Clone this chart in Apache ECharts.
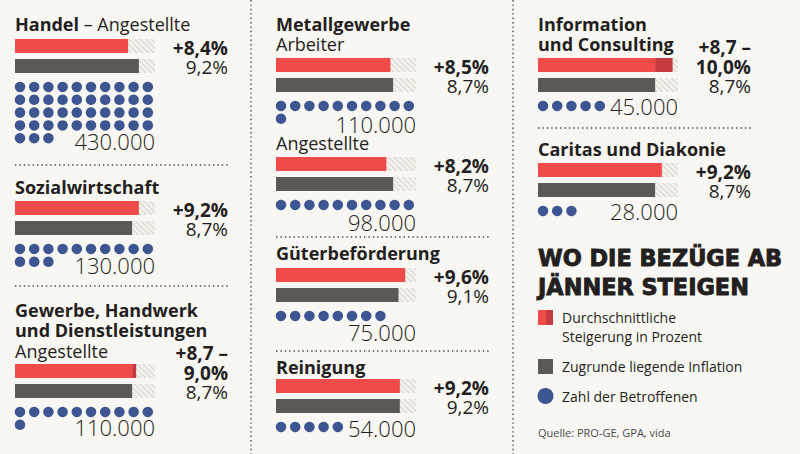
<!DOCTYPE html>
<html><head><meta charset="utf-8">
<script src="https://cdn.jsdelivr.net/npm/echarts@6/dist/echarts.min.js"></script>
<style>html,body{margin:0;padding:0;background:#f9f7f3}#c{width:800px;height:454px}</style>
</head><body><div id="c"></div>
<script>
// ---------- DATA ----------
const titles = [['Handel'], ['Sozialwirtschaft'], ['Gewerbe, Handwerk', 'und Dienstleistungen'], ['Metallgewerbe'], [], ['Güterbeförderung'], ['Reinigung'], ['Information', 'und Consulting'], ['Caritas und Diakonie']];
const groups = ['Angestellte', '', 'Angestellte', 'Arbeiter', 'Angestellte', '', '', '', ''];
const raiseLow = [8.4, 9.2, 8.7, 8.5, 8.2, 9.6, 9.2, 8.7, 9.2];
const raiseHigh = [8.4, 9.2, 9.0, 8.5, 8.2, 9.6, 9.2, 10.0, 9.2];
const inflation = [9.2, 8.7, 8.7, 8.7, 8.7, 9.1, 9.2, 8.7, 8.7];
const affected = [430000, 130000, 110000, 110000, 98000, 75000, 54000, 45000, 28000];
const barMax = 10.4;
const dotUnit = 10000;
const headline = ['WO DIE BEZÜGE AB', 'JÄNNER STEIGEN'];
const legendLabels = [['Durchschnittliche', 'Steigerung in Prozent'], ['Zugrunde liegende Inflation'], ['Zahl der Betroffenen']];
const source = 'Quelle: PRO-GE, GPA, vida';

// ---------- LAYOUT ----------
const layout = [
  {x: 15, titleTop: 14, inline: true, bar: 39, countY: 141},
  {x: 15, titleTop: 177, bar: 201, countY: 265},
  {x: 15, titleTop: 300, bar: 364, countY: 427},
  {x: 276, titleTop: 14, bar: 58, countY: 124},
  {x: 276, titleTop: 133, bar: 157, countY: 222},
  {x: 276, titleTop: 243, bar: 268, countY: 332},
  {x: 276, titleTop: 357, bar: 379, countY: 428},
  {x: 538, titleTop: 14, bar: 58, countY: 106},
  {x: 538, titleTop: 139, bar: 163, countY: 211}
];
const TRACK_W = 140;
const RED = '#f04b49', RED_DARK = '#c53a3e', GRAY = '#5d5755', BLUE = '#3d5590', INK = '#231f20', BG = '#f9f7f3';
const FF = "'Open Sans', sans-serif";
const TITLE_LH = 20.3, PCT_LH = 19.5;

const fmtPct = v => v.toFixed(1).replace('.', ',');
const fmtCount = n => String(n).replace(/\B(?=(\d{3})+(?!\d))/g, '.');

const grids = [], xAxes = [], yAxes = [], series = [], graphic = [];
function txt(x, y, text, font, opt) {
  graphic.push({type: 'text', x: x, y: y, silent: true,
    style: Object.assign({text: text, font: font, fill: INK, align: 'left', verticalAlign: 'middle'}, opt || {})});
}
const richTitle = {
  b: {font: 'bold 18px ' + FF, fill: INK, lineHeight: TITLE_LH},
  r: {font: '18px ' + FF, fill: INK, lineHeight: TITLE_LH}
};
const richPct = {
  b: {font: 'bold 19px ' + FF, fill: INK, lineHeight: PCT_LH, align: 'right'},
  r: {font: '19px ' + FF, fill: INK, lineHeight: PCT_LH, align: 'right'}
};

layout.forEach((L, i) => {
  const gi = grids.length;
  grids.push({left: L.x, top: L.bar - 3, width: TRACK_W, height: 40});
  xAxes.push({gridIndex: gi, type: 'value', min: 0, max: barMax, show: false});
  yAxes.push({gridIndex: gi, type: 'category', data: ['Steigerung', 'Inflation'], inverse: true, show: false});
  const base = {type: 'bar', xAxisIndex: gi, yAxisIndex: gi, barWidth: 14, barGap: '-100%', silent: true, animation: false};
  series.push(Object.assign({}, base, {data: [barMax, barMax],
    itemStyle: {color: '#f4f1ec', decal: {symbol: 'rect', symbolSize: 1, dashArrayX: [1, 0], dashArrayY: [1, 3], rotation: Math.PI / 4, color: '#d9d5cf', backgroundColor: '#f4f1ec'}}}));
  series.push(Object.assign({}, base, {stack: 's' + i, data: [raiseLow[i], '-'], itemStyle: {color: RED}}));
  if (raiseHigh[i] > raiseLow[i]) {
    series.push(Object.assign({}, base, {stack: 's' + i, data: [+(raiseHigh[i] - raiseLow[i]).toFixed(2), '-'], itemStyle: {color: RED_DARK}}));
  }
  series.push(Object.assign({}, base, {data: ['-', inflation[i]], itemStyle: {color: GRAY}}));

  // dots (1 dot = 10.000 people)
  const n = Math.round(affected[i] / dotUnit);
  const rows = Math.ceil(n / 10);
  const gj = grids.length;
  grids.push({left: L.x - 2.1, top: L.bar + 48 - 6.4, width: 142, height: rows * 12.8});
  xAxes.push({gridIndex: gj, type: 'value', min: -0.5, max: 9.5, show: false});
  yAxes.push({gridIndex: gj, type: 'value', min: -0.5, max: rows - 0.5, inverse: true, show: false});
  const pts = [];
  for (let k = 0; k < n; k++) pts.push([k % 10, Math.floor(k / 10)]);
  series.push({type: 'scatter', xAxisIndex: gj, yAxisIndex: gj, data: pts, symbolSize: 10.5, itemStyle: {color: BLUE, opacity: 1}, silent: true, animation: false});

  // title block (one text element)
  let t;
  if (L.inline) {
    t = '{b|' + titles[i][0] + '}{r| – ' + groups[i] + '}';
  } else {
    const lines = titles[i].map(s => '{b|' + s + '}');
    if (groups[i]) lines.push('{r|' + groups[i] + '}');
    t = lines.join('\n');
  }
  graphic.push({type: 'text', x: L.x, y: L.titleTop, silent: true,
    style: {text: t, rich: richTitle, font: '18px ' + FF, fill: INK, align: 'left', verticalAlign: 'top'}});

  // percentages (one text element, bottom line centred on the inflation bar)
  const pl = [];
  if (raiseHigh[i] > raiseLow[i]) {
    pl.push('{b|+' + fmtPct(raiseLow[i]) + ' –}', '{b|' + fmtPct(raiseHigh[i]) + '%}');
  } else {
    pl.push('{b|+' + fmtPct(raiseLow[i]) + '%}');
  }
  pl.push('{r|' + fmtPct(inflation[i]) + '%}');
  graphic.push({type: 'text', x: L.x + 213, y: L.bar + 28 + PCT_LH / 2, silent: true,
    style: {text: pl.join('\n'), rich: richPct, font: '19px ' + FF, fill: INK, align: 'right', verticalAlign: 'bottom'}});

  // count
  txt(L.x + TRACK_W, L.countY, fmtCount(affected[i]), '300 22px ' + FF, {align: 'right'});
});

// separators
function dline(x1, y1, x2, y2) {
  graphic.push({type: 'line', silent: true, shape: {x1: x1, y1: y1, x2: x2, y2: y2},
    style: {stroke: '#4a4543', lineWidth: 1.4, lineDash: [1.4, 3]}});
}
dline(251, 0, 251, 454); dline(513, 0, 513, 454);
dline(15, 165, 230, 165); dline(15, 286, 230, 286);
dline(276, 237, 490, 237); dline(276, 351, 490, 351);
dline(538, 128, 752, 128);

// legend
graphic.push({type: 'text', x: 538, y: 243, silent: true,
  style: {text: headline.join('\n'), font: 'bold 22.4px "DejaVu Sans", sans-serif', lineHeight: 29, fill: INK, stroke: INK, lineWidth: 0.9, align: 'left', verticalAlign: 'top'}});
graphic.push({type: 'rect', silent: true, shape: {x: 538, y: 310, width: 8, height: 15}, style: {fill: RED}});
graphic.push({type: 'rect', silent: true, shape: {x: 546, y: 310, width: 7, height: 15}, style: {fill: RED_DARK}});
graphic.push({type: 'text', x: 562, y: 308, silent: true,
  style: {text: legendLabels[0].join('\n'), font: '14px ' + FF, lineHeight: 19, fill: INK, align: 'left', verticalAlign: 'top'}});
graphic.push({type: 'rect', silent: true, shape: {x: 538, y: 359, width: 15, height: 15}, style: {fill: GRAY}});
txt(562, 366, legendLabels[1][0], '14px ' + FF);
graphic.push({type: 'circle', silent: true, shape: {cx: 545.5, cy: 396, r: 8}, style: {fill: BLUE}});
txt(562, 396, legendLabels[2][0], '14px ' + FF);
txt(538, 432, source, '11px ' + FF, {fill: '#4a4a4a'});

const chart = echarts.init(document.getElementById('c'), null, {renderer: 'svg', width: 800, height: 454});
chart.setOption({backgroundColor: BG, animation: false, grid: grids, xAxis: xAxes, yAxis: yAxes, series: series, graphic: graphic});
</script>
</body></html>
